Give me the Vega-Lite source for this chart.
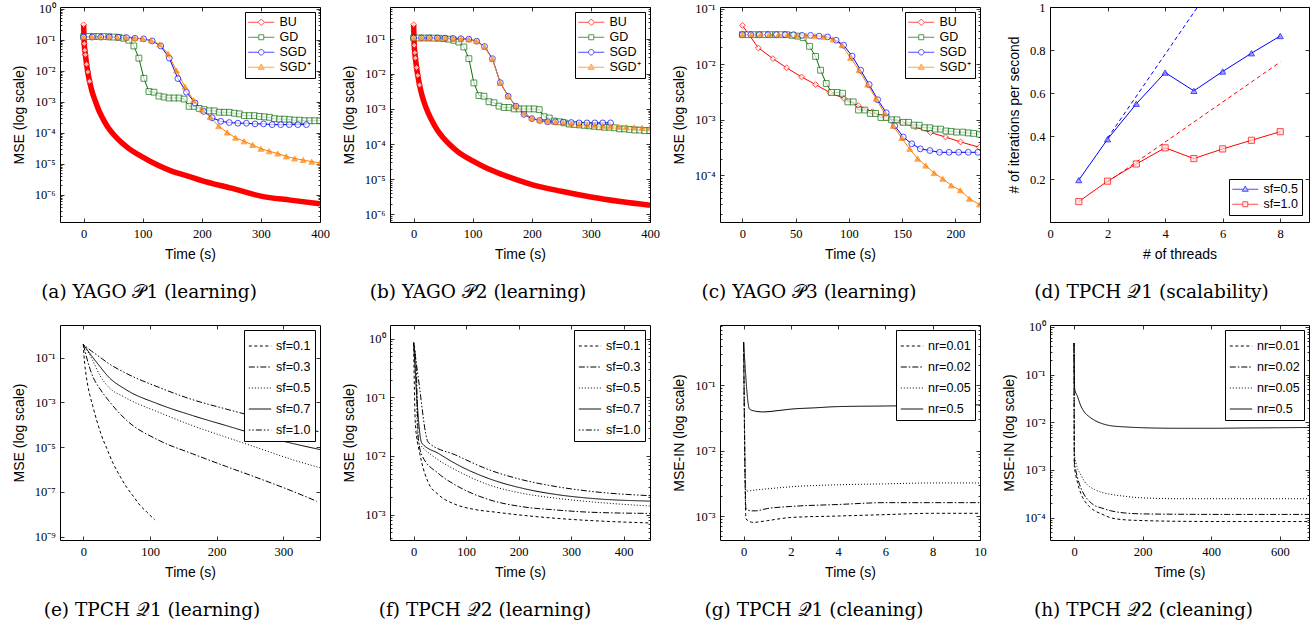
{
"$schema": "https://vega.github.io/schema/vega-lite/v6.json",
"background": "white",
"padding": {"left": 11, "top": 0, "right": 5, "bottom": 5},
"bounds": "flush",
"columns": 4,
"spacing": {"row": 103, "column": 70},
"resolve": {"scale": {"color": "independent", "strokeDash": "independent", "shape": "independent", "stroke": "independent", "fill": "independent"}, "legend": {"color": "independent", "strokeDash": "independent", "shape": "independent", "stroke": "independent", "fill": "independent"}},
"datasets": {
"pa": [
{"t":0,"v":0.3,"s":"BU"},{"t":1,"v":0.074,"s":"BU"},{"t":2,"v":0.045,"s":"BU"},{"t":3,"v":0.032,"s":"BU"},{"t":5,"v":0.016,"s":"BU"},{"t":7,"v":0.009,"s":"BU"},{"t":10,"v":0.0045,"s":"BU"},{"t":14,"v":0.0022,"s":"BU"},{"t":20,"v":0.001,"s":"BU"},{"t":25,"v":0.00056,"s":"BU"},{"t":30,"v":0.00035,"s":"BU"},{"t":40,"v":0.00016,"s":"BU"},{"t":50,"v":0.000089,"s":"BU"},{"t":60,"v":0.000056,"s":"BU"},{"t":75,"v":0.000032,"s":"BU"},{"t":100,"v":0.000016,"s":"BU"},{"t":125,"v":0.0000089,"s":"BU"},{"t":150,"v":0.0000056,"s":"BU"},{"t":175,"v":0.000004,"s":"BU"},{"t":200,"v":0.0000028,"s":"BU"},{"t":250,"v":0.0000016,"s":"BU"},{"t":300,"v":0.00000089,"s":"BU"},{"t":350,"v":0.00000066,"s":"BU"},{"t":400,"v":0.0000005,"s":"BU"},
{"t":0,"v":0.125,"s":"GD"},{"t":8.5,"v":0.125,"s":"GD"},{"t":17,"v":0.125,"s":"GD"},{"t":25.5,"v":0.125,"s":"GD"},{"t":34,"v":0.124,"s":"GD"},{"t":42.5,"v":0.123,"s":"GD"},{"t":51,"v":0.12,"s":"GD"},{"t":59.5,"v":0.118,"s":"GD"},{"t":68,"v":0.11,"s":"GD"},{"t":76.5,"v":0.095,"s":"GD"},{"t":85,"v":0.062,"s":"GD"},{"t":93.5,"v":0.025,"s":"GD"},{"t":102,"v":0.0056,"s":"GD"},{"t":110.5,"v":0.0021,"s":"GD"},{"t":119,"v":0.002,"s":"GD"},{"t":127.5,"v":0.0015,"s":"GD"},{"t":136,"v":0.0014,"s":"GD"},{"t":144.5,"v":0.0013,"s":"GD"},{"t":153,"v":0.0013,"s":"GD"},{"t":161.5,"v":0.0013,"s":"GD"},{"t":170,"v":0.0012,"s":"GD"},{"t":178.5,"v":0.0007,"s":"GD"},{"t":187,"v":0.0007,"s":"GD"},{"t":195.5,"v":0.0006,"s":"GD"},{"t":204,"v":0.00055,"s":"GD"},{"t":212.5,"v":0.0005,"s":"GD"},{"t":221,"v":0.0005,"s":"GD"},{"t":229.5,"v":0.00045,"s":"GD"},{"t":238,"v":0.00045,"s":"GD"},{"t":246.5,"v":0.00045,"s":"GD"},{"t":255,"v":0.00042,"s":"GD"},{"t":263.5,"v":0.0004,"s":"GD"},{"t":272,"v":0.00035,"s":"GD"},{"t":280.5,"v":0.00035,"s":"GD"},{"t":289,"v":0.00035,"s":"GD"},{"t":297.5,"v":0.00033,"s":"GD"},{"t":306,"v":0.00032,"s":"GD"},{"t":314.5,"v":0.00031,"s":"GD"},{"t":323,"v":0.00028,"s":"GD"},{"t":331.5,"v":0.00027,"s":"GD"},{"t":340,"v":0.00027,"s":"GD"},{"t":348.5,"v":0.00026,"s":"GD"},{"t":357,"v":0.00025,"s":"GD"},{"t":365.5,"v":0.00025,"s":"GD"},{"t":374,"v":0.00024,"s":"GD"},{"t":382.5,"v":0.00024,"s":"GD"},{"t":391,"v":0.00024,"s":"GD"},{"t":399.5,"v":0.00024,"s":"GD"},
{"t":0,"v":0.12,"s":"SGD"},{"t":14.5,"v":0.12,"s":"SGD"},{"t":29,"v":0.12,"s":"SGD"},{"t":43.5,"v":0.12,"s":"SGD"},{"t":58,"v":0.118,"s":"SGD"},{"t":72.5,"v":0.115,"s":"SGD"},{"t":87,"v":0.11,"s":"SGD"},{"t":101.5,"v":0.105,"s":"SGD"},{"t":116,"v":0.09,"s":"SGD"},{"t":130.5,"v":0.062,"s":"SGD"},{"t":145,"v":0.025,"s":"SGD"},{"t":159.5,"v":0.0055,"s":"SGD"},{"t":174,"v":0.002,"s":"SGD"},{"t":188.5,"v":0.0009,"s":"SGD"},{"t":203,"v":0.00048,"s":"SGD"},{"t":217.5,"v":0.0003,"s":"SGD"},{"t":232,"v":0.00023,"s":"SGD"},{"t":246.5,"v":0.00021,"s":"SGD"},{"t":261,"v":0.0002,"s":"SGD"},{"t":275.5,"v":0.0002,"s":"SGD"},{"t":290,"v":0.00019,"s":"SGD"},{"t":304.5,"v":0.00019,"s":"SGD"},{"t":319,"v":0.00018,"s":"SGD"},{"t":333.5,"v":0.00018,"s":"SGD"},{"t":348,"v":0.00018,"s":"SGD"},{"t":362.5,"v":0.00018,"s":"SGD"},{"t":377,"v":0.00018,"s":"SGD"},
{"t":0,"v":0.12,"s":"SGD⁺"},{"t":14,"v":0.12,"s":"SGD⁺"},{"t":28.5,"v":0.12,"s":"SGD⁺"},{"t":43,"v":0.12,"s":"SGD⁺"},{"t":57,"v":0.118,"s":"SGD⁺"},{"t":71.5,"v":0.115,"s":"SGD⁺"},{"t":86,"v":0.112,"s":"SGD⁺"},{"t":100,"v":0.105,"s":"SGD⁺"},{"t":114,"v":0.095,"s":"SGD⁺"},{"t":128.5,"v":0.07,"s":"SGD⁺"},{"t":143,"v":0.035,"s":"SGD⁺"},{"t":157,"v":0.01,"s":"SGD⁺"},{"t":171.5,"v":0.003,"s":"SGD⁺"},{"t":186,"v":0.0011,"s":"SGD⁺"},{"t":200,"v":0.00055,"s":"SGD⁺"},{"t":214,"v":0.00032,"s":"SGD⁺"},{"t":228.5,"v":0.00016,"s":"SGD⁺"},{"t":243,"v":0.0001,"s":"SGD⁺"},{"t":257,"v":0.000068,"s":"SGD⁺"},{"t":271.5,"v":0.000052,"s":"SGD⁺"},{"t":286,"v":0.00004,"s":"SGD⁺"},{"t":300,"v":0.00003,"s":"SGD⁺"},{"t":314,"v":0.000025,"s":"SGD⁺"},{"t":328.5,"v":0.000021,"s":"SGD⁺"},{"t":343,"v":0.000017,"s":"SGD⁺"},{"t":357,"v":0.0000145,"s":"SGD⁺"},{"t":371.5,"v":0.000013,"s":"SGD⁺"},{"t":386,"v":0.0000115,"s":"SGD⁺"},{"t":400,"v":0.0000105,"s":"SGD⁺"}
],
"pb": [
{"t":0,"v":0.25,"s":"BU"},{"t":1,"v":0.065,"s":"BU"},{"t":2,"v":0.04,"s":"BU"},{"t":3,"v":0.028,"s":"BU"},{"t":5,"v":0.015,"s":"BU"},{"t":7,"v":0.009,"s":"BU"},{"t":10,"v":0.0048,"s":"BU"},{"t":14,"v":0.0025,"s":"BU"},{"t":20,"v":0.0012,"s":"BU"},{"t":25,"v":0.00075,"s":"BU"},{"t":30,"v":0.0005,"s":"BU"},{"t":40,"v":0.00025,"s":"BU"},{"t":50,"v":0.00015,"s":"BU"},{"t":60,"v":0.0001,"s":"BU"},{"t":75,"v":0.00006,"s":"BU"},{"t":100,"v":0.000033,"s":"BU"},{"t":125,"v":0.00002,"s":"BU"},{"t":150,"v":0.0000135,"s":"BU"},{"t":175,"v":0.0000095,"s":"BU"},{"t":200,"v":0.000007,"s":"BU"},{"t":250,"v":0.0000045,"s":"BU"},{"t":300,"v":0.0000031,"s":"BU"},{"t":350,"v":0.0000023,"s":"BU"},{"t":400,"v":0.0000018,"s":"BU"},
{"t":0,"v":0.105,"s":"GD"},{"t":8.5,"v":0.105,"s":"GD"},{"t":17,"v":0.105,"s":"GD"},{"t":25.5,"v":0.105,"s":"GD"},{"t":34,"v":0.104,"s":"GD"},{"t":42.5,"v":0.103,"s":"GD"},{"t":51,"v":0.1,"s":"GD"},{"t":59.5,"v":0.097,"s":"GD"},{"t":68,"v":0.09,"s":"GD"},{"t":76.5,"v":0.08,"s":"GD"},{"t":85,"v":0.058,"s":"GD"},{"t":93.5,"v":0.027,"s":"GD"},{"t":102,"v":0.0055,"s":"GD"},{"t":110.5,"v":0.0024,"s":"GD"},{"t":119,"v":0.0023,"s":"GD"},{"t":127.5,"v":0.0016,"s":"GD"},{"t":136,"v":0.0015,"s":"GD"},{"t":144.5,"v":0.0012,"s":"GD"},{"t":153,"v":0.0011,"s":"GD"},{"t":161.5,"v":0.0011,"s":"GD"},{"t":170,"v":0.001,"s":"GD"},{"t":178.5,"v":0.001,"s":"GD"},{"t":187,"v":0.001,"s":"GD"},{"t":195.5,"v":0.001,"s":"GD"},{"t":204,"v":0.001,"s":"GD"},{"t":212.5,"v":0.00095,"s":"GD"},{"t":221,"v":0.0006,"s":"GD"},{"t":229.5,"v":0.00055,"s":"GD"},{"t":238,"v":0.00045,"s":"GD"},{"t":246.5,"v":0.00043,"s":"GD"},{"t":255,"v":0.0004,"s":"GD"},{"t":263.5,"v":0.00037,"s":"GD"},{"t":272,"v":0.00036,"s":"GD"},{"t":280.5,"v":0.00035,"s":"GD"},{"t":289,"v":0.00034,"s":"GD"},{"t":297.5,"v":0.00033,"s":"GD"},{"t":306,"v":0.00032,"s":"GD"},{"t":314.5,"v":0.00031,"s":"GD"},{"t":323,"v":0.0003,"s":"GD"},{"t":331.5,"v":0.0003,"s":"GD"},{"t":340,"v":0.00029,"s":"GD"},{"t":348.5,"v":0.00027,"s":"GD"},{"t":357,"v":0.00027,"s":"GD"},{"t":365.5,"v":0.00026,"s":"GD"},{"t":374,"v":0.00025,"s":"GD"},{"t":382.5,"v":0.00025,"s":"GD"},{"t":391,"v":0.00024,"s":"GD"},{"t":399.5,"v":0.00024,"s":"GD"},
{"t":0,"v":0.105,"s":"SGD"},{"t":13.3,"v":0.105,"s":"SGD"},{"t":26.7,"v":0.105,"s":"SGD"},{"t":40,"v":0.105,"s":"SGD"},{"t":53.3,"v":0.104,"s":"SGD"},{"t":66.7,"v":0.102,"s":"SGD"},{"t":80,"v":0.1,"s":"SGD"},{"t":93.3,"v":0.097,"s":"SGD"},{"t":106.7,"v":0.085,"s":"SGD"},{"t":120,"v":0.06,"s":"SGD"},{"t":133.3,"v":0.027,"s":"SGD"},{"t":146.7,"v":0.0056,"s":"SGD"},{"t":160,"v":0.0023,"s":"SGD"},{"t":173.3,"v":0.0012,"s":"SGD"},{"t":186.7,"v":0.0007,"s":"SGD"},{"t":200,"v":0.00053,"s":"SGD"},{"t":213.3,"v":0.00047,"s":"SGD"},{"t":226.7,"v":0.00043,"s":"SGD"},{"t":240,"v":0.00043,"s":"SGD"},{"t":253.3,"v":0.00042,"s":"SGD"},{"t":266.7,"v":0.00041,"s":"SGD"},{"t":280,"v":0.0004,"s":"SGD"},{"t":293.3,"v":0.0004,"s":"SGD"},{"t":306.7,"v":0.0004,"s":"SGD"},{"t":320,"v":0.0004,"s":"SGD"},{"t":333.3,"v":0.0004,"s":"SGD"},
{"t":0,"v":0.105,"s":"SGD⁺"},{"t":13.3,"v":0.105,"s":"SGD⁺"},{"t":26.7,"v":0.105,"s":"SGD⁺"},{"t":40,"v":0.105,"s":"SGD⁺"},{"t":53.3,"v":0.104,"s":"SGD⁺"},{"t":66.7,"v":0.102,"s":"SGD⁺"},{"t":80,"v":0.1,"s":"SGD⁺"},{"t":93.3,"v":0.095,"s":"SGD⁺"},{"t":106.7,"v":0.085,"s":"SGD⁺"},{"t":120,"v":0.058,"s":"SGD⁺"},{"t":133.3,"v":0.026,"s":"SGD⁺"},{"t":146.7,"v":0.0055,"s":"SGD⁺"},{"t":160,"v":0.0023,"s":"SGD⁺"},{"t":173.3,"v":0.0012,"s":"SGD⁺"},{"t":186.7,"v":0.00075,"s":"SGD⁺"},{"t":200,"v":0.00055,"s":"SGD⁺"},{"t":213.3,"v":0.00048,"s":"SGD⁺"},{"t":226.7,"v":0.00044,"s":"SGD⁺"},{"t":240,"v":0.00042,"s":"SGD⁺"},{"t":253.3,"v":0.0004,"s":"SGD⁺"},{"t":266.7,"v":0.00038,"s":"SGD⁺"},{"t":280,"v":0.00036,"s":"SGD⁺"},{"t":293.3,"v":0.00035,"s":"SGD⁺"},{"t":306.7,"v":0.00034,"s":"SGD⁺"},{"t":320,"v":0.00033,"s":"SGD⁺"},{"t":333.3,"v":0.00032,"s":"SGD⁺"},{"t":346.7,"v":0.00031,"s":"SGD⁺"},{"t":360,"v":0.0003,"s":"SGD⁺"},{"t":373.3,"v":0.0003,"s":"SGD⁺"},{"t":386.7,"v":0.00029,"s":"SGD⁺"},{"t":400,"v":0.00029,"s":"SGD⁺"}
],
"pc": [
{"t":0,"v":0.05,"s":"BU"},{"t":15,"v":0.0196,"s":"BU"},{"t":28.7,"v":0.0126,"s":"BU"},{"t":41.5,"v":0.0086,"s":"BU"},{"t":55.6,"v":0.0059,"s":"BU"},{"t":68.75,"v":0.0043,"s":"BU"},{"t":82,"v":0.0031,"s":"BU"},{"t":95.6,"v":0.0024,"s":"BU"},{"t":108.75,"v":0.0018,"s":"BU"},{"t":122,"v":0.0014,"s":"BU"},{"t":135,"v":0.0011,"s":"BU"},{"t":149,"v":0.0009,"s":"BU"},{"t":162.5,"v":0.00074,"s":"BU"},{"t":176.6,"v":0.00059,"s":"BU"},{"t":190.6,"v":0.00049,"s":"BU"},{"t":204.7,"v":0.0004,"s":"BU"},{"t":222.5,"v":0.00032,"s":"BU"},
{"t":0,"v":0.034,"s":"GD"},{"t":5.2,"v":0.034,"s":"GD"},{"t":10.4,"v":0.034,"s":"GD"},{"t":15.6,"v":0.034,"s":"GD"},{"t":20.8,"v":0.034,"s":"GD"},{"t":26,"v":0.034,"s":"GD"},{"t":31.2,"v":0.034,"s":"GD"},{"t":36.4,"v":0.034,"s":"GD"},{"t":41.6,"v":0.034,"s":"GD"},{"t":46.8,"v":0.033,"s":"GD"},{"t":52,"v":0.032,"s":"GD"},{"t":57,"v":0.03,"s":"GD"},{"t":63,"v":0.021,"s":"GD"},{"t":68.7,"v":0.0138,"s":"GD"},{"t":73.4,"v":0.0078,"s":"GD"},{"t":78.7,"v":0.0045,"s":"GD"},{"t":83.7,"v":0.0031,"s":"GD"},{"t":89,"v":0.0031,"s":"GD"},{"t":94,"v":0.003,"s":"GD"},{"t":99,"v":0.0021,"s":"GD"},{"t":104,"v":0.0021,"s":"GD"},{"t":109,"v":0.0015,"s":"GD"},{"t":115,"v":0.0015,"s":"GD"},{"t":120,"v":0.0013,"s":"GD"},{"t":125,"v":0.0013,"s":"GD"},{"t":130,"v":0.0011,"s":"GD"},{"t":135,"v":0.0011,"s":"GD"},{"t":140,"v":0.001,"s":"GD"},{"t":145,"v":0.001,"s":"GD"},{"t":151,"v":0.0009,"s":"GD"},{"t":156,"v":0.0009,"s":"GD"},{"t":161,"v":0.0008,"s":"GD"},{"t":166,"v":0.0008,"s":"GD"},{"t":171,"v":0.00072,"s":"GD"},{"t":176,"v":0.00072,"s":"GD"},{"t":181,"v":0.00068,"s":"GD"},{"t":186,"v":0.00068,"s":"GD"},{"t":191,"v":0.00063,"s":"GD"},{"t":196,"v":0.00062,"s":"GD"},{"t":201,"v":0.0006,"s":"GD"},{"t":207,"v":0.0006,"s":"GD"},{"t":212,"v":0.00058,"s":"GD"},{"t":217,"v":0.00057,"s":"GD"},{"t":222.5,"v":0.00055,"s":"GD"},
{"t":0,"v":0.034,"s":"SGD"},{"t":8,"v":0.034,"s":"SGD"},{"t":16,"v":0.034,"s":"SGD"},{"t":24,"v":0.034,"s":"SGD"},{"t":32,"v":0.034,"s":"SGD"},{"t":40,"v":0.034,"s":"SGD"},{"t":48,"v":0.034,"s":"SGD"},{"t":56,"v":0.033,"s":"SGD"},{"t":64,"v":0.033,"s":"SGD"},{"t":72,"v":0.032,"s":"SGD"},{"t":80,"v":0.031,"s":"SGD"},{"t":88,"v":0.027,"s":"SGD"},{"t":95,"v":0.022,"s":"SGD"},{"t":103,"v":0.014,"s":"SGD"},{"t":111,"v":0.0078,"s":"SGD"},{"t":119,"v":0.0043,"s":"SGD"},{"t":127,"v":0.0023,"s":"SGD"},{"t":135,"v":0.00134,"s":"SGD"},{"t":143,"v":0.00078,"s":"SGD"},{"t":151,"v":0.00049,"s":"SGD"},{"t":159,"v":0.00037,"s":"SGD"},{"t":167,"v":0.0003,"s":"SGD"},{"t":176,"v":0.00028,"s":"SGD"},{"t":185,"v":0.00026,"s":"SGD"},{"t":194,"v":0.00026,"s":"SGD"},{"t":203,"v":0.00026,"s":"SGD"},{"t":212,"v":0.00026,"s":"SGD"},{"t":221,"v":0.00026,"s":"SGD"},
{"t":0,"v":0.034,"s":"SGD⁺"},{"t":8.5,"v":0.034,"s":"SGD⁺"},{"t":17,"v":0.034,"s":"SGD⁺"},{"t":25.5,"v":0.034,"s":"SGD⁺"},{"t":34,"v":0.034,"s":"SGD⁺"},{"t":42.5,"v":0.034,"s":"SGD⁺"},{"t":51,"v":0.033,"s":"SGD⁺"},{"t":59.5,"v":0.033,"s":"SGD⁺"},{"t":68,"v":0.032,"s":"SGD⁺"},{"t":76.5,"v":0.031,"s":"SGD⁺"},{"t":85,"v":0.028,"s":"SGD⁺"},{"t":93.5,"v":0.022,"s":"SGD⁺"},{"t":101.5,"v":0.013,"s":"SGD⁺"},{"t":109.5,"v":0.0078,"s":"SGD⁺"},{"t":117.5,"v":0.0043,"s":"SGD⁺"},{"t":125.5,"v":0.0024,"s":"SGD⁺"},{"t":133.5,"v":0.0013,"s":"SGD⁺"},{"t":141.5,"v":0.00078,"s":"SGD⁺"},{"t":149.5,"v":0.00047,"s":"SGD⁺"},{"t":157,"v":0.0003,"s":"SGD⁺"},{"t":164.5,"v":0.0002,"s":"SGD⁺"},{"t":172,"v":0.00015,"s":"SGD⁺"},{"t":180,"v":0.00011,"s":"SGD⁺"},{"t":188,"v":0.000087,"s":"SGD⁺"},{"t":196,"v":0.000066,"s":"SGD⁺"},{"t":204.5,"v":0.000054,"s":"SGD⁺"},{"t":213,"v":0.000038,"s":"SGD⁺"},{"t":222.5,"v":0.00003,"s":"SGD⁺"}
],
"pd": [
{"n":1,"v":0.195,"s":"sf=0.5"},{"n":2,"v":0.385,"s":"sf=0.5"},{"n":3,"v":0.55,"s":"sf=0.5"},{"n":4,"v":0.695,"s":"sf=0.5"},{"n":5,"v":0.61,"s":"sf=0.5"},{"n":6,"v":0.7,"s":"sf=0.5"},{"n":7,"v":0.785,"s":"sf=0.5"},{"n":8,"v":0.865,"s":"sf=0.5"},
{"n":1,"v":0.095,"s":"sf=1.0"},{"n":2,"v":0.19,"s":"sf=1.0"},{"n":3,"v":0.27,"s":"sf=1.0"},{"n":4,"v":0.345,"s":"sf=1.0"},{"n":5,"v":0.295,"s":"sf=1.0"},{"n":6,"v":0.34,"s":"sf=1.0"},{"n":7,"v":0.38,"s":"sf=1.0"},{"n":8,"v":0.42,"s":"sf=1.0"}
],
"pd2": [
{"n":2,"v":0.39,"s":"sf=0.5"},{"n":5.128,"v":1.0,"s":"sf=0.5"},
{"n":2,"v":0.186,"s":"sf=1.0"},{"n":8,"v":0.744,"s":"sf=1.0"}
],
"pe": [
{"t":0,"v":0.39,"s":"sf=0.1"},{"t":1,"v":0.126,"s":"sf=0.1"},{"t":2,"v":0.056,"s":"sf=0.1"},{"t":4,"v":0.0178,"s":"sf=0.1"},{"t":7,"v":0.005,"s":"sf=0.1"},{"t":10,"v":0.002,"s":"sf=0.1"},{"t":14,"v":0.00071,"s":"sf=0.1"},{"t":20,"v":0.00016,"s":"sf=0.1"},{"t":27,"v":0.000035,"s":"sf=0.1"},{"t":35,"v":0.0000089,"s":"sf=0.1"},{"t":45,"v":0.0000018,"s":"sf=0.1"},{"t":55,"v":0.0000005,"s":"sf=0.1"},{"t":65,"v":0.00000016,"s":"sf=0.1"},{"t":75,"v":0.000000063,"s":"sf=0.1"},{"t":85,"v":0.000000025,"s":"sf=0.1"},{"t":95,"v":0.0000000126,"s":"sf=0.1"},{"t":107,"v":0.0000000056,"s":"sf=0.1"},
{"t":0,"v":0.39,"s":"sf=0.3"},{"t":6,"v":0.079,"s":"sf=0.3"},{"t":12,"v":0.021,"s":"sf=0.3"},{"t":25,"v":0.004,"s":"sf=0.3"},{"t":37.5,"v":0.00126,"s":"sf=0.3"},{"t":62.8,"v":0.00018,"s":"sf=0.3"},{"t":113.4,"v":0.00002,"s":"sf=0.3"},{"t":164,"v":0.000005,"s":"sf=0.3"},{"t":214.7,"v":0.00000135,"s":"sf=0.3"},{"t":265.3,"v":0.00000038,"s":"sf=0.3"},{"t":316,"v":0.0000001,"s":"sf=0.3"},{"t":350,"v":0.000000038,"s":"sf=0.3"},
{"t":0,"v":0.39,"s":"sf=0.5"},{"t":12,"v":0.1,"s":"sf=0.5"},{"t":25,"v":0.0158,"s":"sf=0.5"},{"t":37.5,"v":0.005,"s":"sf=0.5"},{"t":62.8,"v":0.00166,"s":"sf=0.5"},{"t":113.4,"v":0.00036,"s":"sf=0.5"},{"t":164,"v":0.000091,"s":"sf=0.5"},{"t":214.7,"v":0.0000275,"s":"sf=0.5"},{"t":265.3,"v":0.0000085,"s":"sf=0.5"},{"t":316,"v":0.0000026,"s":"sf=0.5"},{"t":356.5,"v":0.00000117,"s":"sf=0.5"},
{"t":0,"v":0.39,"s":"sf=0.7"},{"t":12,"v":0.126,"s":"sf=0.7"},{"t":25,"v":0.04,"s":"sf=0.7"},{"t":37.5,"v":0.0141,"s":"sf=0.7"},{"t":62.8,"v":0.0039,"s":"sf=0.7"},{"t":113.4,"v":0.00083,"s":"sf=0.7"},{"t":164,"v":0.000257,"s":"sf=0.7"},{"t":214.7,"v":0.000091,"s":"sf=0.7"},{"t":265.3,"v":0.000033,"s":"sf=0.7"},{"t":316,"v":0.0000141,"s":"sf=0.7"},{"t":356.5,"v":0.0000076,"s":"sf=0.7"},
{"t":0,"v":0.39,"s":"sf=1.0"},{"t":12,"v":0.2,"s":"sf=1.0"},{"t":25,"v":0.105,"s":"sf=1.0"},{"t":37.5,"v":0.056,"s":"sf=1.0"},{"t":62.8,"v":0.021,"s":"sf=1.0"},{"t":113.4,"v":0.0047,"s":"sf=1.0"},{"t":164,"v":0.00132,"s":"sf=1.0"},{"t":214.7,"v":0.0005,"s":"sf=1.0"},{"t":265.3,"v":0.0002,"s":"sf=1.0"},{"t":316,"v":0.000085,"s":"sf=1.0"},{"t":356.5,"v":0.000047,"s":"sf=1.0"}
],
"pf": [
{"t":0,"v":0.85,"s":"sf=0.1"},{"t":3,"v":0.04,"s":"sf=0.1"},{"t":6,"v":0.02,"s":"sf=0.1"},{"t":10,"v":0.013,"s":"sf=0.1"},{"t":15,"v":0.008,"s":"sf=0.1"},{"t":28,"v":0.0035,"s":"sf=0.1"},{"t":47,"v":0.0022,"s":"sf=0.1"},{"t":79,"v":0.0015,"s":"sf=0.1"},{"t":111,"v":0.00125,"s":"sf=0.1"},{"t":157,"v":0.0011,"s":"sf=0.1"},{"t":220,"v":0.00095,"s":"sf=0.1"},{"t":300,"v":0.00083,"s":"sf=0.1"},{"t":380,"v":0.00076,"s":"sf=0.1"},{"t":455,"v":0.00072,"s":"sf=0.1"},
{"t":0,"v":0.85,"s":"sf=0.3"},{"t":5,"v":0.3,"s":"sf=0.3"},{"t":9,"v":0.02,"s":"sf=0.3"},{"t":15.5,"v":0.0104,"s":"sf=0.3"},{"t":47.5,"v":0.005,"s":"sf=0.3"},{"t":79.6,"v":0.0032,"s":"sf=0.3"},{"t":143.7,"v":0.0018,"s":"sf=0.3"},{"t":208,"v":0.00136,"s":"sf=0.3"},{"t":272,"v":0.0012,"s":"sf=0.3"},{"t":336,"v":0.0011,"s":"sf=0.3"},{"t":451,"v":0.00105,"s":"sf=0.3"},
{"t":0,"v":0.85,"s":"sf=0.5"},{"t":4,"v":0.3,"s":"sf=0.5"},{"t":8,"v":0.017,"s":"sf=0.5"},{"t":15,"v":0.0145,"s":"sf=0.5"},{"t":47.5,"v":0.0085,"s":"sf=0.5"},{"t":79.6,"v":0.0058,"s":"sf=0.5"},{"t":143.7,"v":0.0032,"s":"sf=0.5"},{"t":208,"v":0.0023,"s":"sf=0.5"},{"t":272,"v":0.0019,"s":"sf=0.5"},{"t":336,"v":0.00166,"s":"sf=0.5"},{"t":451,"v":0.0014,"s":"sf=0.5"},
{"t":0,"v":0.85,"s":"sf=0.7"},{"t":15.5,"v":0.0166,"s":"sf=0.7"},{"t":47.5,"v":0.011,"s":"sf=0.7"},{"t":79.6,"v":0.0074,"s":"sf=0.7"},{"t":143.7,"v":0.0041,"s":"sf=0.7"},{"t":208,"v":0.0028,"s":"sf=0.7"},{"t":272,"v":0.0022,"s":"sf=0.7"},{"t":336,"v":0.0019,"s":"sf=0.7"},{"t":451,"v":0.0017,"s":"sf=0.7"},
{"t":0,"v":0.85,"s":"sf=1.0"},{"t":9,"v":0.21,"s":"sf=1.0"},{"t":28,"v":0.017,"s":"sf=1.0"},{"t":79.6,"v":0.0104,"s":"sf=1.0"},{"t":143.7,"v":0.0058,"s":"sf=1.0"},{"t":208,"v":0.0039,"s":"sf=1.0"},{"t":272,"v":0.003,"s":"sf=1.0"},{"t":336,"v":0.0025,"s":"sf=1.0"},{"t":451,"v":0.0021,"s":"sf=1.0"}
],
"pg": [
{"t":0,"v":0.45,"s":"nr=0.01"},{"t":0.1,"v":0.0009,"s":"nr=0.01"},{"t":0.4,"v":0.0008,"s":"nr=0.01"},{"t":1,"v":0.00085,"s":"nr=0.01"},{"t":2,"v":0.00095,"s":"nr=0.01"},{"t":4,"v":0.001,"s":"nr=0.01"},{"t":6,"v":0.00105,"s":"nr=0.01"},{"t":8,"v":0.0011,"s":"nr=0.01"},{"t":10,"v":0.0011,"s":"nr=0.01"},
{"t":0,"v":0.45,"s":"nr=0.02"},{"t":0.1,"v":0.0013,"s":"nr=0.02"},{"t":0.3,"v":0.0012,"s":"nr=0.02"},{"t":0.5,"v":0.0012,"s":"nr=0.02"},{"t":1,"v":0.0013,"s":"nr=0.02"},{"t":2,"v":0.0014,"s":"nr=0.02"},{"t":4,"v":0.0015,"s":"nr=0.02"},{"t":6,"v":0.0016,"s":"nr=0.02"},{"t":8,"v":0.0016,"s":"nr=0.02"},{"t":10,"v":0.0016,"s":"nr=0.02"},
{"t":0,"v":0.45,"s":"nr=0.05"},{"t":0.1,"v":0.0024,"s":"nr=0.05"},{"t":0.5,"v":0.0025,"s":"nr=0.05"},{"t":1,"v":0.0026,"s":"nr=0.05"},{"t":2,"v":0.0028,"s":"nr=0.05"},{"t":4,"v":0.003,"s":"nr=0.05"},{"t":6,"v":0.0031,"s":"nr=0.05"},{"t":8,"v":0.0032,"s":"nr=0.05"},{"t":10,"v":0.0032,"s":"nr=0.05"},
{"t":0,"v":0.45,"s":"nr=0.5"},{"t":0.25,"v":0.043,"s":"nr=0.5"},{"t":0.5,"v":0.04,"s":"nr=0.5"},{"t":0.8,"v":0.039,"s":"nr=0.5"},{"t":1.5,"v":0.041,"s":"nr=0.5"},{"t":2,"v":0.043,"s":"nr=0.5"},{"t":3,"v":0.045,"s":"nr=0.5"},{"t":4,"v":0.047,"s":"nr=0.5"},{"t":6,"v":0.048,"s":"nr=0.5"},{"t":8,"v":0.049,"s":"nr=0.5"},{"t":10,"v":0.05,"s":"nr=0.5"}
],
"ph": [
{"t":0,"v":0.46,"s":"nr=0.01"},{"t":1,"v":0.0012,"s":"nr=0.01"},{"t":5,"v":0.0008,"s":"nr=0.01"},{"t":10,"v":0.00055,"s":"nr=0.01"},{"t":20,"v":0.00032,"s":"nr=0.01"},{"t":30,"v":0.00023,"s":"nr=0.01"},{"t":45,"v":0.00017,"s":"nr=0.01"},{"t":60,"v":0.00014,"s":"nr=0.01"},{"t":80,"v":0.00012,"s":"nr=0.01"},{"t":106,"v":0.0001,"s":"nr=0.01"},{"t":150,"v":0.00009,"s":"nr=0.01"},{"t":200,"v":0.000087,"s":"nr=0.01"},{"t":300,"v":0.000084,"s":"nr=0.01"},{"t":450,"v":0.000083,"s":"nr=0.01"},{"t":600,"v":0.000083,"s":"nr=0.01"},{"t":685,"v":0.000083,"s":"nr=0.01"},
{"t":0,"v":0.46,"s":"nr=0.02"},{"t":1,"v":0.0015,"s":"nr=0.02"},{"t":5,"v":0.001,"s":"nr=0.02"},{"t":10,"v":0.0007,"s":"nr=0.02"},{"t":20,"v":0.00042,"s":"nr=0.02"},{"t":30,"v":0.0003,"s":"nr=0.02"},{"t":45,"v":0.00022,"s":"nr=0.02"},{"t":60,"v":0.00018,"s":"nr=0.02"},{"t":80,"v":0.00016,"s":"nr=0.02"},{"t":106,"v":0.00014,"s":"nr=0.02"},{"t":150,"v":0.000125,"s":"nr=0.02"},{"t":200,"v":0.00012,"s":"nr=0.02"},{"t":300,"v":0.000118,"s":"nr=0.02"},{"t":450,"v":0.000117,"s":"nr=0.02"},{"t":600,"v":0.000117,"s":"nr=0.02"},{"t":685,"v":0.000117,"s":"nr=0.02"},
{"t":0,"v":0.46,"s":"nr=0.05"},{"t":1,"v":0.0022,"s":"nr=0.05"},{"t":10,"v":0.0011,"s":"nr=0.05"},{"t":20,"v":0.0008,"s":"nr=0.05"},{"t":30,"v":0.00058,"s":"nr=0.05"},{"t":45,"v":0.00045,"s":"nr=0.05"},{"t":60,"v":0.00039,"s":"nr=0.05"},{"t":80,"v":0.00034,"s":"nr=0.05"},{"t":106,"v":0.00031,"s":"nr=0.05"},{"t":150,"v":0.00028,"s":"nr=0.05"},{"t":200,"v":0.00026,"s":"nr=0.05"},{"t":300,"v":0.00025,"s":"nr=0.05"},{"t":450,"v":0.00025,"s":"nr=0.05"},{"t":600,"v":0.00025,"s":"nr=0.05"},{"t":685,"v":0.00025,"s":"nr=0.05"},
{"t":0,"v":0.46,"s":"nr=0.5"},{"t":2,"v":0.05,"s":"nr=0.5"},{"t":10,"v":0.035,"s":"nr=0.5"},{"t":20,"v":0.022,"s":"nr=0.5"},{"t":30,"v":0.0165,"s":"nr=0.5"},{"t":45,"v":0.013,"s":"nr=0.5"},{"t":60,"v":0.011,"s":"nr=0.5"},{"t":80,"v":0.0095,"s":"nr=0.5"},{"t":106,"v":0.0085,"s":"nr=0.5"},{"t":150,"v":0.008,"s":"nr=0.5"},{"t":200,"v":0.0077,"s":"nr=0.5"},{"t":300,"v":0.0075,"s":"nr=0.5"},{"t":400,"v":0.0075,"s":"nr=0.5"},{"t":500,"v":0.0076,"s":"nr=0.5"},{"t":600,"v":0.0077,"s":"nr=0.5"},{"t":685,"v":0.0078,"s":"nr=0.5"}
]
},
"concat": [
{
"width": 260, "height": 215,
"title": {"text": "(a) YAGO 𝒫1 (learning)", "dx": -41},
"data": {"name": "pa"},
"layer": [
{"transform": [{"filter": "datum.s==='BU'"}],
 "mark": {"type": "line", "strokeWidth": 5.5, "interpolate": "monotone", "clip": true},
 "encoding": {
  "x": {"field": "t", "type": "quantitative", "scale": {"domain": [-40, 400], "nice": false, "zero": false}, "axis": {"title": "Time (s)", "values": [0,100,200,300,400]}},
  "y": {"field": "v", "type": "quantitative", "scale": {"type": "log", "domain": [1.3e-7, 1.12], "nice": false}, "axis": {"title": "MSE (log scale)", "values": [1,0.9,0.8,0.7,0.6,0.5,0.4,0.3,0.2,0.1,0.09,0.08,0.07,0.06,0.05,0.04,0.03,0.02,0.01,0.009,0.008,0.007,0.006,0.005,0.004,0.003,0.002,0.001,9e-4,8e-4,7e-4,6e-4,5e-4,4e-4,3e-4,2e-4,1e-4,9e-5,8e-5,7e-5,6e-5,5e-5,4e-5,3e-5,2e-5,1e-5,9e-6,8e-6,7e-6,6e-6,5e-6,4e-6,3e-6,2e-6,1e-6,9e-7,8e-7,7e-7,6e-7,5e-7,4e-7,3e-7,2e-7], "labelExpr": "abs(log(datum.value)/LN10-round(log(datum.value)/LN10))<0.01?'10'+(datum.value<0.5?'⁻':'')+['⁰','¹','²','³','⁴','⁵','⁶','⁷','⁸','⁹'][abs(round(log(datum.value)/LN10))]:''", "tickSize": {"condition": {"test": "abs(log(datum.value)/LN10-round(log(datum.value)/LN10))<0.01", "value": -4}, "value": -2}}},
  "color": {"field": "s", "type": "nominal", "scale": {"domain": ["SGD⁺","SGD","GD","BU"], "range": ["#ff8000","#0000ff","#0a6e0a","#ff0000"]}, "legend": null}
 }},
{"transform": [{"filter": "datum.s!=='BU'"}],
 "mark": {"type": "line", "strokeWidth": 1, "clip": true},
 "encoding": {"x": {"field": "t", "type": "quantitative", "axis": null}, "y": {"field": "v", "type": "quantitative", "axis": null}, "color": {"field": "s", "type": "nominal", "legend": null}}},
{"transform": [{"filter": "datum.s==='BU' && datum.t<=10"}],
 "mark": {"type": "point", "shape": "diamond", "filled": true, "fill": "#ffffff", "stroke": "#ff0000", "size": 34, "strokeWidth": 1, "clip": true},
 "encoding": {"x": {"field": "t", "type": "quantitative", "axis": null}, "y": {"field": "v", "type": "quantitative", "axis": null}}},
{"transform": [{"filter": "datum.s==='GD'"}],
 "mark": {"type": "point", "shape": "square", "filled": true, "fill": "#ffffff", "stroke": "#0a6e0a", "size": 34, "strokeWidth": 1, "clip": true},
 "encoding": {"x": {"field": "t", "type": "quantitative", "axis": null}, "y": {"field": "v", "type": "quantitative", "axis": null}}},
{"transform": [{"filter": "datum.s==='SGD'"}],
 "mark": {"type": "point", "shape": "circle", "filled": true, "fill": "#ffffff", "stroke": "#0000ff", "size": 34, "strokeWidth": 1, "clip": true},
 "encoding": {"x": {"field": "t", "type": "quantitative", "axis": null}, "y": {"field": "v", "type": "quantitative", "axis": null}}},
{"transform": [{"filter": "datum.s==='SGD⁺'"}],
 "mark": {"type": "point", "shape": "triangle-up", "filled": true, "fill": "#ff8000", "stroke": "#ff8000", "size": 34, "strokeWidth": 1, "clip": true},
 "encoding": {
  "x": {"field": "t", "type": "quantitative", "axis": {"orient": "top", "labels": false, "title": null, "values": [0,100,200,300,400]}},
  "y": {"field": "v", "type": "quantitative", "axis": {"orient": "right", "labels": false, "title": null, "values": [1,0.9,0.8,0.7,0.6,0.5,0.4,0.3,0.2,0.1,0.09,0.08,0.07,0.06,0.05,0.04,0.03,0.02,0.01,0.009,0.008,0.007,0.006,0.005,0.004,0.003,0.002,0.001,9e-4,8e-4,7e-4,6e-4,5e-4,4e-4,3e-4,2e-4,1e-4,9e-5,8e-5,7e-5,6e-5,5e-5,4e-5,3e-5,2e-5,1e-5,9e-6,8e-6,7e-6,6e-6,5e-6,4e-6,3e-6,2e-6,1e-6,9e-7,8e-7,7e-7,6e-7,5e-7,4e-7,3e-7,2e-7], "tickSize": {"condition": {"test": "abs(log(datum.value)/LN10-round(log(datum.value)/LN10))<0.01", "value": -4}, "value": -2}}}
 }},
{"transform": [{"filter": "false"}],
 "mark": {"type": "point", "filled": true, "strokeWidth": 1},
 "encoding": {
  "x": {"field": "t", "type": "quantitative", "axis": null}, "y": {"field": "v", "type": "quantitative", "axis": null},
  "shape": {"field": "s", "type": "nominal", "scale": {"domain": ["BU","GD","SGD","SGD⁺"], "range": ["M-2.6,0H-0.65M0.65,0H2.6M0,-0.65L0.65,0L0,0.65L-0.65,0Z", "M-2.6,0H-0.5M0.5,0H2.6M-0.5,-0.5H0.5V0.5H-0.5Z", "M-2.6,0H-0.55M0.55,0H2.6M0.55,0A0.55,0.55,0,1,1,-0.55,0A0.55,0.55,0,1,1,0.55,0Z", "M-2.6,0H-0.37M0.37,0H2.6M0,-0.65L0.6,0.4L-0.6,0.4Z"]}, "legend": {"title": null, "symbolSize": 100, "symbolOffset": 6, "labelOffset": 12, "symbolStrokeWidth": 1}},
  "stroke": {"field": "s", "type": "nominal", "scale": {"domain": ["BU","GD","SGD","SGD⁺"], "range": ["#ff0000","#0a6e0a","#0000ff","#ff8000"]}, "legend": {"title": null, "symbolSize": 100, "symbolOffset": 6, "labelOffset": 12, "symbolStrokeWidth": 1}},
  "fill": {"field": "s", "type": "nominal", "scale": {"domain": ["BU","GD","SGD","SGD⁺"], "range": ["#ffffff","#ffffff","#ffffff","#ff8000"]}, "legend": {"title": null, "symbolSize": 100, "symbolOffset": 6, "labelOffset": 12, "symbolStrokeWidth": 1}}
 }}
],
"resolve": {"axis": {"x": "independent", "y": "independent"}}
},
{
"width": 260, "height": 215,
"title": {"text": "(b) YAGO 𝒫2 (learning)", "dx": -42},
"data": {"name": "pb"},
"layer": [
{"transform": [{"filter": "datum.s==='BU'"}],
 "mark": {"type": "line", "strokeWidth": 5.5, "interpolate": "monotone", "clip": true},
 "encoding": {
  "x": {"field": "t", "type": "quantitative", "scale": {"domain": [-40, 400], "nice": false, "zero": false}, "axis": {"title": "Time (s)", "values": [0,100,200,300,400]}},
  "y": {"field": "v", "type": "quantitative", "scale": {"type": "log", "domain": [6e-7, 0.8], "nice": false}, "axis": {"title": "MSE (log scale)", "values": [0.8,0.7,0.6,0.5,0.4,0.3,0.2,0.1,0.09,0.08,0.07,0.06,0.05,0.04,0.03,0.02,0.01,0.009,0.008,0.007,0.006,0.005,0.004,0.003,0.002,0.001,9e-4,8e-4,7e-4,6e-4,5e-4,4e-4,3e-4,2e-4,1e-4,9e-5,8e-5,7e-5,6e-5,5e-5,4e-5,3e-5,2e-5,1e-5,9e-6,8e-6,7e-6,6e-6,5e-6,4e-6,3e-6,2e-6,1e-6,9e-7,8e-7,7e-7,6e-7], "labelExpr": "abs(log(datum.value)/LN10-round(log(datum.value)/LN10))<0.01?'10'+(datum.value<0.5?'⁻':'')+['⁰','¹','²','³','⁴','⁵','⁶','⁷','⁸','⁹'][abs(round(log(datum.value)/LN10))]:''", "tickSize": {"condition": {"test": "abs(log(datum.value)/LN10-round(log(datum.value)/LN10))<0.01", "value": -4}, "value": -2}}},
  "color": {"field": "s", "type": "nominal", "scale": {"domain": ["SGD⁺","SGD","GD","BU"], "range": ["#ff8000","#0000ff","#0a6e0a","#ff0000"]}, "legend": null}
 }},
{"transform": [{"filter": "datum.s!=='BU'"}],
 "mark": {"type": "line", "strokeWidth": 1, "clip": true},
 "encoding": {"x": {"field": "t", "type": "quantitative", "axis": null}, "y": {"field": "v", "type": "quantitative", "axis": null}, "color": {"field": "s", "type": "nominal", "legend": null}}},
{"transform": [{"filter": "datum.s==='BU' && datum.t<=10"}],
 "mark": {"type": "point", "shape": "diamond", "filled": true, "fill": "#ffffff", "stroke": "#ff0000", "size": 34, "strokeWidth": 1, "clip": true},
 "encoding": {"x": {"field": "t", "type": "quantitative", "axis": null}, "y": {"field": "v", "type": "quantitative", "axis": null}}},
{"transform": [{"filter": "datum.s==='GD'"}],
 "mark": {"type": "point", "shape": "square", "filled": true, "fill": "#ffffff", "stroke": "#0a6e0a", "size": 34, "strokeWidth": 1, "clip": true},
 "encoding": {"x": {"field": "t", "type": "quantitative", "axis": null}, "y": {"field": "v", "type": "quantitative", "axis": null}}},
{"transform": [{"filter": "datum.s==='SGD'"}],
 "mark": {"type": "point", "shape": "circle", "filled": true, "fill": "#ffffff", "stroke": "#0000ff", "size": 34, "strokeWidth": 1, "clip": true},
 "encoding": {"x": {"field": "t", "type": "quantitative", "axis": null}, "y": {"field": "v", "type": "quantitative", "axis": null}}},
{"transform": [{"filter": "datum.s==='SGD⁺'"}],
 "mark": {"type": "point", "shape": "triangle-up", "filled": true, "fill": "#ff8000", "stroke": "#ff8000", "size": 34, "strokeWidth": 1, "clip": true},
 "encoding": {
  "x": {"field": "t", "type": "quantitative", "axis": {"orient": "top", "labels": false, "title": null, "values": [0,100,200,300,400]}},
  "y": {"field": "v", "type": "quantitative", "axis": {"orient": "right", "labels": false, "title": null, "values": [0.8,0.7,0.6,0.5,0.4,0.3,0.2,0.1,0.09,0.08,0.07,0.06,0.05,0.04,0.03,0.02,0.01,0.009,0.008,0.007,0.006,0.005,0.004,0.003,0.002,0.001,9e-4,8e-4,7e-4,6e-4,5e-4,4e-4,3e-4,2e-4,1e-4,9e-5,8e-5,7e-5,6e-5,5e-5,4e-5,3e-5,2e-5,1e-5,9e-6,8e-6,7e-6,6e-6,5e-6,4e-6,3e-6,2e-6,1e-6,9e-7,8e-7,7e-7,6e-7], "tickSize": {"condition": {"test": "abs(log(datum.value)/LN10-round(log(datum.value)/LN10))<0.01", "value": -4}, "value": -2}}}
 }},
{"transform": [{"filter": "false"}],
 "mark": {"type": "point", "filled": true, "strokeWidth": 1},
 "encoding": {
  "x": {"field": "t", "type": "quantitative", "axis": null}, "y": {"field": "v", "type": "quantitative", "axis": null},
  "shape": {"field": "s", "type": "nominal", "scale": {"domain": ["BU","GD","SGD","SGD⁺"], "range": ["M-2.6,0H-0.65M0.65,0H2.6M0,-0.65L0.65,0L0,0.65L-0.65,0Z", "M-2.6,0H-0.5M0.5,0H2.6M-0.5,-0.5H0.5V0.5H-0.5Z", "M-2.6,0H-0.55M0.55,0H2.6M0.55,0A0.55,0.55,0,1,1,-0.55,0A0.55,0.55,0,1,1,0.55,0Z", "M-2.6,0H-0.37M0.37,0H2.6M0,-0.65L0.6,0.4L-0.6,0.4Z"]}, "legend": {"title": null, "symbolSize": 100, "symbolOffset": 6, "labelOffset": 12, "symbolStrokeWidth": 1}},
  "stroke": {"field": "s", "type": "nominal", "scale": {"domain": ["BU","GD","SGD","SGD⁺"], "range": ["#ff0000","#0a6e0a","#0000ff","#ff8000"]}, "legend": {"title": null, "symbolSize": 100, "symbolOffset": 6, "labelOffset": 12, "symbolStrokeWidth": 1}},
  "fill": {"field": "s", "type": "nominal", "scale": {"domain": ["BU","GD","SGD","SGD⁺"], "range": ["#ffffff","#ffffff","#ffffff","#ff8000"]}, "legend": {"title": null, "symbolSize": 100, "symbolOffset": 6, "labelOffset": 12, "symbolStrokeWidth": 1}}
 }}
],
"resolve": {"axis": {"x": "independent", "y": "independent"}}
},
{
"width": 260, "height": 215,
"title": {"text": "(c) YAGO 𝒫3 (learning)", "dx": -41},
"data": {"name": "pc"},
"layer": [
{"mark": {"type": "line", "strokeWidth": 1, "clip": true},
 "encoding": {
  "x": {"field": "t", "type": "quantitative", "scale": {"domain": [-21, 223], "nice": false, "zero": false}, "axis": {"title": "Time (s)", "values": [0,50,100,150,200]}},
  "y": {"field": "v", "type": "quantitative", "scale": {"type": "log", "domain": [1.45e-5, 0.107], "nice": false}, "axis": {"title": "MSE (log scale)", "values": [0.1,0.09,0.08,0.07,0.06,0.05,0.04,0.03,0.02,0.01,0.009,0.008,0.007,0.006,0.005,0.004,0.003,0.002,0.001,9e-4,8e-4,7e-4,6e-4,5e-4,4e-4,3e-4,2e-4,1e-4,9e-5,8e-5,7e-5,6e-5,5e-5,4e-5,3e-5,2e-5], "labelExpr": "abs(log(datum.value)/LN10-round(log(datum.value)/LN10))<0.01?'10'+(datum.value<0.5?'⁻':'')+['⁰','¹','²','³','⁴','⁵','⁶','⁷','⁸','⁹'][abs(round(log(datum.value)/LN10))]:''", "tickSize": {"condition": {"test": "abs(log(datum.value)/LN10-round(log(datum.value)/LN10))<0.01", "value": -4}, "value": -2}}},
  "color": {"field": "s", "type": "nominal", "scale": {"domain": ["SGD⁺","SGD","GD","BU"], "range": ["#ff8000","#0000ff","#0a6e0a","#ff0000"]}, "legend": null}
 }},
{"transform": [{"filter": "datum.s==='BU'"}],
 "mark": {"type": "point", "shape": "diamond", "filled": true, "fill": "#ffffff", "stroke": "#ff0000", "size": 34, "strokeWidth": 1, "clip": true},
 "encoding": {"x": {"field": "t", "type": "quantitative", "axis": null}, "y": {"field": "v", "type": "quantitative", "axis": null}}},
{"transform": [{"filter": "datum.s==='GD'"}],
 "mark": {"type": "point", "shape": "square", "filled": true, "fill": "#ffffff", "stroke": "#0a6e0a", "size": 34, "strokeWidth": 1, "clip": true},
 "encoding": {"x": {"field": "t", "type": "quantitative", "axis": null}, "y": {"field": "v", "type": "quantitative", "axis": null}}},
{"transform": [{"filter": "datum.s==='SGD'"}],
 "mark": {"type": "point", "shape": "circle", "filled": true, "fill": "#ffffff", "stroke": "#0000ff", "size": 34, "strokeWidth": 1, "clip": true},
 "encoding": {"x": {"field": "t", "type": "quantitative", "axis": null}, "y": {"field": "v", "type": "quantitative", "axis": null}}},
{"transform": [{"filter": "datum.s==='SGD⁺'"}],
 "mark": {"type": "point", "shape": "triangle-up", "filled": true, "fill": "#ff8000", "stroke": "#ff8000", "size": 34, "strokeWidth": 1, "clip": true},
 "encoding": {
  "x": {"field": "t", "type": "quantitative", "axis": {"orient": "top", "labels": false, "title": null, "values": [0,50,100,150,200]}},
  "y": {"field": "v", "type": "quantitative", "axis": {"orient": "right", "labels": false, "title": null, "values": [0.1,0.09,0.08,0.07,0.06,0.05,0.04,0.03,0.02,0.01,0.009,0.008,0.007,0.006,0.005,0.004,0.003,0.002,0.001,9e-4,8e-4,7e-4,6e-4,5e-4,4e-4,3e-4,2e-4,1e-4,9e-5,8e-5,7e-5,6e-5,5e-5,4e-5,3e-5,2e-5], "tickSize": {"condition": {"test": "abs(log(datum.value)/LN10-round(log(datum.value)/LN10))<0.01", "value": -4}, "value": -2}}}
 }},
{"transform": [{"filter": "false"}],
 "mark": {"type": "point", "filled": true, "strokeWidth": 1},
 "encoding": {
  "x": {"field": "t", "type": "quantitative", "axis": null}, "y": {"field": "v", "type": "quantitative", "axis": null},
  "shape": {"field": "s", "type": "nominal", "scale": {"domain": ["BU","GD","SGD","SGD⁺"], "range": ["M-2.6,0H-0.65M0.65,0H2.6M0,-0.65L0.65,0L0,0.65L-0.65,0Z", "M-2.6,0H-0.5M0.5,0H2.6M-0.5,-0.5H0.5V0.5H-0.5Z", "M-2.6,0H-0.55M0.55,0H2.6M0.55,0A0.55,0.55,0,1,1,-0.55,0A0.55,0.55,0,1,1,0.55,0Z", "M-2.6,0H-0.37M0.37,0H2.6M0,-0.65L0.6,0.4L-0.6,0.4Z"]}, "legend": {"title": null, "symbolSize": 100, "symbolOffset": 6, "labelOffset": 12, "symbolStrokeWidth": 1}},
  "stroke": {"field": "s", "type": "nominal", "scale": {"domain": ["BU","GD","SGD","SGD⁺"], "range": ["#ff0000","#0a6e0a","#0000ff","#ff8000"]}, "legend": {"title": null, "symbolSize": 100, "symbolOffset": 6, "labelOffset": 12, "symbolStrokeWidth": 1}},
  "fill": {"field": "s", "type": "nominal", "scale": {"domain": ["BU","GD","SGD","SGD⁺"], "range": ["#ffffff","#ffffff","#ffffff","#ff8000"]}, "legend": {"title": null, "symbolSize": 100, "symbolOffset": 6, "labelOffset": 12, "symbolStrokeWidth": 1}}
 }}
],
"resolve": {"axis": {"x": "independent", "y": "independent"}}
},
{
"width": 259, "height": 215,
"title": {"text": "(d) TPCH 𝒬1 (scalability)", "dx": -28},
"layer": [
{"data": {"name": "pd"},
 "mark": {"type": "line", "strokeWidth": 1, "clip": true},
 "encoding": {
  "x": {"field": "n", "type": "quantitative", "scale": {"domain": [0, 9], "nice": false}, "axis": {"title": "# of threads", "values": [0,2,4,6,8]}},
  "y": {"field": "v", "type": "quantitative", "scale": {"domain": [0, 1], "nice": false}, "axis": {"title": "# of iterations per second", "values": [0.2,0.4,0.6,0.8,1], "format": ".1~f"}},
  "color": {"field": "s", "type": "nominal", "scale": {"domain": ["sf=1.0","sf=0.5"], "range": ["#ff0000","#0000ff"]}, "legend": null}
 }},
{"data": {"name": "pd2"},
 "mark": {"type": "line", "strokeWidth": 1, "strokeDash": [4,3], "clip": true},
 "encoding": {"x": {"field": "n", "type": "quantitative", "axis": null}, "y": {"field": "v", "type": "quantitative", "axis": null}, "color": {"field": "s", "type": "nominal", "legend": null}}},
{"data": {"name": "pd"},
 "transform": [{"filter": "datum.s==='sf=1.0'"}],
 "mark": {"type": "point", "shape": "square", "filled": true, "fill": "#ffdddd", "stroke": "#ff0000", "size": 38, "strokeWidth": 1},
 "encoding": {"x": {"field": "n", "type": "quantitative", "axis": null}, "y": {"field": "v", "type": "quantitative", "axis": null}}},
{"data": {"name": "pd"},
 "transform": [{"filter": "datum.s==='sf=0.5'"}],
 "mark": {"type": "point", "shape": "triangle-up", "filled": true, "fill": "#7f7fff", "stroke": "#0000ff", "size": 38, "strokeWidth": 1},
 "encoding": {
  "x": {"field": "n", "type": "quantitative", "axis": {"orient": "top", "labels": false, "title": null, "values": [0,2,4,6,8]}},
  "y": {"field": "v", "type": "quantitative", "axis": {"orient": "right", "labels": false, "title": null, "values": [0.2,0.4,0.6,0.8,1]}}
 }},
{"data": {"name": "pd"},
 "transform": [{"filter": "false"}],
 "mark": {"type": "point", "filled": true, "strokeWidth": 1},
 "encoding": {
  "x": {"field": "n", "type": "quantitative", "axis": null}, "y": {"field": "v", "type": "quantitative", "axis": null},
  "shape": {"field": "s", "type": "nominal", "scale": {"domain": ["sf=0.5","sf=1.0"], "range": ["M-2.6,0H-0.37M0.37,0H2.6M0,-0.65L0.6,0.4L-0.6,0.4Z", "M-2.6,0H-0.5M0.5,0H2.6M-0.5,-0.5H0.5V0.5H-0.5Z"]}, "legend": {"title": null, "orient": "bottom-right", "offset": 7, "symbolSize": 100, "symbolOffset": 6, "labelOffset": 12, "symbolStrokeWidth": 1}},
  "stroke": {"field": "s", "type": "nominal", "scale": {"domain": ["sf=0.5","sf=1.0"], "range": ["#0000ff","#ff0000"]}, "legend": {"title": null, "orient": "bottom-right", "offset": 7, "symbolSize": 100, "symbolOffset": 6, "labelOffset": 12, "symbolStrokeWidth": 1}},
  "fill": {"field": "s", "type": "nominal", "scale": {"domain": ["sf=0.5","sf=1.0"], "range": ["#7f7fff","#ffdddd"]}, "legend": {"title": null, "orient": "bottom-right", "offset": 7, "symbolSize": 100, "symbolOffset": 6, "labelOffset": 12, "symbolStrokeWidth": 1}}
 }}
],
"resolve": {"axis": {"x": "independent", "y": "independent"}}
},
{
"width": 260, "height": 215,
"title": {"text": "(e) TPCH 𝒬1 (learning)", "dx": -38},
"data": {"name": "pe"},
"layer": [
{"mark": {"type": "line", "color": "#000", "strokeWidth": 1, "interpolate": "monotone", "clip": true},
 "encoding": {
  "x": {"field": "t", "type": "quantitative", "scale": {"domain": [-35, 355], "nice": false, "zero": false}, "axis": {"title": "Time (s)", "values": [0,100,200,300]}},
  "y": {"field": "v", "type": "quantitative", "scale": {"type": "log", "domain": [7e-10, 2.9], "nice": false}, "axis": {"title": "MSE (log scale)", "values": [0.1,0.001,1e-5,1e-7,1e-9], "labelExpr": "'10⁻'+['⁰','¹','²','³','⁴','⁵','⁶','⁷','⁸','⁹'][abs(round(log(datum.value)/LN10))]"}},
  "strokeDash": {"field": "s", "type": "nominal", "scale": {"domain": ["sf=0.1","sf=0.3","sf=0.5","sf=0.7","sf=1.0"], "range": [[3,2.5],[6,2,1.5,2],[1,2],[1,0],[1.5,2,1.5,2,6,2]]},
   "legend": {"title": null, "symbolType": "stroke", "symbolSize": 500, "symbolStrokeColor": "#000", "symbolStrokeWidth": 1, "labelOffset": 4}}
 }},
{"mark": {"type": "point", "opacity": 0},
 "encoding": {
  "x": {"field": "t", "type": "quantitative", "axis": {"orient": "top", "labels": false, "title": null, "values": [0,100,200,300]}},
  "y": {"field": "v", "type": "quantitative", "axis": {"orient": "right", "labels": false, "title": null, "values": [0.1,0.001,1e-5,1e-7,1e-9]}}
 }}
],
"resolve": {"axis": {"x": "independent", "y": "independent"}}
},
{
"width": 260, "height": 215,
"title": {"text": "(f) TPCH 𝒬2 (learning)", "dx": -35},
"data": {"name": "pf"},
"layer": [
{"mark": {"type": "line", "color": "#000", "strokeWidth": 1, "interpolate": "monotone", "clip": true},
 "encoding": {
  "x": {"field": "t", "type": "quantitative", "scale": {"domain": [-45, 450], "nice": false, "zero": false}, "axis": {"title": "Time (s)", "values": [0,100,200,300,400]}},
  "y": {"field": "v", "type": "quantitative", "scale": {"type": "log", "domain": [3.7e-4, 1.7], "nice": false}, "axis": {"title": "MSE (log scale)", "values": [1,0.9,0.8,0.7,0.6,0.5,0.4,0.3,0.2,0.1,0.09,0.08,0.07,0.06,0.05,0.04,0.03,0.02,0.01,0.009,0.008,0.007,0.006,0.005,0.004,0.003,0.002,0.001,9e-4,8e-4,7e-4,6e-4,5e-4,4e-4], "labelExpr": "abs(log(datum.value)/LN10-round(log(datum.value)/LN10))<0.01?'10'+(datum.value<0.5?'⁻':'')+['⁰','¹','²','³','⁴','⁵','⁶','⁷','⁸','⁹'][abs(round(log(datum.value)/LN10))]:''", "tickSize": {"condition": {"test": "abs(log(datum.value)/LN10-round(log(datum.value)/LN10))<0.01", "value": -4}, "value": -2}}},
  "strokeDash": {"field": "s", "type": "nominal", "scale": {"domain": ["sf=0.1","sf=0.3","sf=0.5","sf=0.7","sf=1.0"], "range": [[3,2.5],[6,2,1.5,2],[1,2],[1,0],[1.5,2,1.5,2,6,2]]},
   "legend": {"title": null, "symbolType": "stroke", "symbolSize": 500, "symbolStrokeColor": "#000", "symbolStrokeWidth": 1, "labelOffset": 4}}
 }},
{"mark": {"type": "point", "opacity": 0},
 "encoding": {
  "x": {"field": "t", "type": "quantitative", "axis": {"orient": "top", "labels": false, "title": null, "values": [0,100,200,300,400]}},
  "y": {"field": "v", "type": "quantitative", "axis": {"orient": "right", "labels": false, "title": null, "values": [1,0.9,0.8,0.7,0.6,0.5,0.4,0.3,0.2,0.1,0.09,0.08,0.07,0.06,0.05,0.04,0.03,0.02,0.01,0.009,0.008,0.007,0.006,0.005,0.004,0.003,0.002,0.001,9e-4,8e-4,7e-4,6e-4,5e-4,4e-4], "tickSize": {"condition": {"test": "abs(log(datum.value)/LN10-round(log(datum.value)/LN10))<0.01", "value": -4}, "value": -2}}}
 }}
],
"resolve": {"axis": {"x": "independent", "y": "independent"}}
},
{
"width": 260, "height": 215,
"title": {"text": "(g) TPCH 𝒬1 (cleaning)", "dx": -36},
"data": {"name": "pg"},
"layer": [
{"mark": {"type": "line", "color": "#000", "strokeWidth": 1, "interpolate": "monotone", "clip": true},
 "encoding": {
  "x": {"field": "t", "type": "quantitative", "scale": {"domain": [-1, 10], "nice": false, "zero": false}, "axis": {"title": "Time (s)", "values": [0,2,4,6,8,10]}},
  "y": {"field": "v", "type": "quantitative", "scale": {"type": "log", "domain": [4.3e-4, 0.83], "nice": false}, "axis": {"title": "MSE-IN (log scale)", "values": [0.8,0.7,0.6,0.5,0.4,0.3,0.2,0.1,0.09,0.08,0.07,0.06,0.05,0.04,0.03,0.02,0.01,0.009,0.008,0.007,0.006,0.005,0.004,0.003,0.002,0.001,9e-4,8e-4,7e-4,6e-4,5e-4], "labelExpr": "abs(log(datum.value)/LN10-round(log(datum.value)/LN10))<0.01?'10'+(datum.value<0.5?'⁻':'')+['⁰','¹','²','³','⁴','⁵','⁶','⁷','⁸','⁹'][abs(round(log(datum.value)/LN10))]:''", "tickSize": {"condition": {"test": "abs(log(datum.value)/LN10-round(log(datum.value)/LN10))<0.01", "value": -4}, "value": -2}}},
  "strokeDash": {"field": "s", "type": "nominal", "scale": {"domain": ["nr=0.01","nr=0.02","nr=0.05","nr=0.5"], "range": [[3,2.5],[6,2,1.5,2],[1,2],[1,0]]},
   "legend": {"title": null, "symbolType": "stroke", "symbolSize": 500, "symbolStrokeColor": "#000", "symbolStrokeWidth": 1, "labelOffset": 4}}
 }},
{"mark": {"type": "point", "opacity": 0},
 "encoding": {
  "x": {"field": "t", "type": "quantitative", "axis": {"orient": "top", "labels": false, "title": null, "values": [0,2,4,6,8,10]}},
  "y": {"field": "v", "type": "quantitative", "axis": {"orient": "right", "labels": false, "title": null, "values": [0.8,0.7,0.6,0.5,0.4,0.3,0.2,0.1,0.09,0.08,0.07,0.06,0.05,0.04,0.03,0.02,0.01,0.009,0.008,0.007,0.006,0.005,0.004,0.003,0.002,0.001,9e-4,8e-4,7e-4,6e-4,5e-4], "tickSize": {"condition": {"test": "abs(log(datum.value)/LN10-round(log(datum.value)/LN10))<0.01", "value": -4}, "value": -2}}}
 }}
],
"resolve": {"axis": {"x": "independent", "y": "independent"}}
},
{
"width": 259, "height": 215,
"title": {"text": "(h) TPCH 𝒬2 (cleaning)", "dx": -36},
"data": {"name": "ph"},
"layer": [
{"mark": {"type": "line", "color": "#000", "strokeWidth": 1, "interpolate": "monotone", "clip": true},
 "encoding": {
  "x": {"field": "t", "type": "quantitative", "scale": {"domain": [-70, 685], "nice": false, "zero": false}, "axis": {"title": "Time (s)", "values": [0,200,400,600]}},
  "y": {"field": "v", "type": "quantitative", "scale": {"type": "log", "domain": [3.4e-5, 1.1], "nice": false}, "axis": {"title": "MSE-IN (log scale)", "values": [1,0.9,0.8,0.7,0.6,0.5,0.4,0.3,0.2,0.1,0.09,0.08,0.07,0.06,0.05,0.04,0.03,0.02,0.01,0.009,0.008,0.007,0.006,0.005,0.004,0.003,0.002,0.001,9e-4,8e-4,7e-4,6e-4,5e-4,4e-4,3e-4,2e-4,1e-4,9e-5,8e-5,7e-5,6e-5,5e-5,4e-5], "labelExpr": "abs(log(datum.value)/LN10-round(log(datum.value)/LN10))<0.01?'10'+(datum.value<0.5?'⁻':'')+['⁰','¹','²','³','⁴','⁵','⁶','⁷','⁸','⁹'][abs(round(log(datum.value)/LN10))]:''", "tickSize": {"condition": {"test": "abs(log(datum.value)/LN10-round(log(datum.value)/LN10))<0.01", "value": -4}, "value": -2}}},
  "strokeDash": {"field": "s", "type": "nominal", "scale": {"domain": ["nr=0.01","nr=0.02","nr=0.05","nr=0.5"], "range": [[3,2.5],[6,2,1.5,2],[1,2],[1,0]]},
   "legend": {"title": null, "symbolType": "stroke", "symbolSize": 500, "symbolStrokeColor": "#000", "symbolStrokeWidth": 1, "labelOffset": 4}}
 }},
{"mark": {"type": "point", "opacity": 0},
 "encoding": {
  "x": {"field": "t", "type": "quantitative", "axis": {"orient": "top", "labels": false, "title": null, "values": [0,200,400,600]}},
  "y": {"field": "v", "type": "quantitative", "axis": {"orient": "right", "labels": false, "title": null, "values": [1,0.9,0.8,0.7,0.6,0.5,0.4,0.3,0.2,0.1,0.09,0.08,0.07,0.06,0.05,0.04,0.03,0.02,0.01,0.009,0.008,0.007,0.006,0.005,0.004,0.003,0.002,0.001,9e-4,8e-4,7e-4,6e-4,5e-4,4e-4,3e-4,2e-4,1e-4,9e-5,8e-5,7e-5,6e-5,5e-5,4e-5], "tickSize": {"condition": {"test": "abs(log(datum.value)/LN10-round(log(datum.value)/LN10))<0.01", "value": -4}, "value": -2}}}
 }}
],
"resolve": {"axis": {"x": "independent", "y": "independent"}}
}
],
"config": {
"view": {"stroke": "#000", "strokeWidth": 1},
"axis": {"grid": false, "domain": false, "tickColor": "#000", "tickSize": -4, "tickWidth": 0.8, "labelFont": "Liberation Serif", "labelFontSize": 12.5, "labelColor": "#000", "labelPadding": 9, "labelFlush": false, "labelOverlap": false, "titleFont": "Liberation Sans", "titleFontSize": 14, "titleFontWeight": "normal", "titleColor": "#000", "titlePadding": 8},
"legend": {"labelFont": "Liberation Sans", "labelFontSize": 12.5, "labelColor": "#000", "strokeColor": "#000", "fillColor": "#fff", "padding": 4, "orient": "top-right", "offset": 5, "rowPadding": 2, "symbolStrokeWidth": 1},
"title": {"orient": "bottom", "anchor": "middle", "frame": "group", "font": "DejaVu Serif", "fontSize": 18.5, "fontWeight": "normal", "color": "#000", "offset": 21},
"line": {"strokeWidth": 1}
}
}
